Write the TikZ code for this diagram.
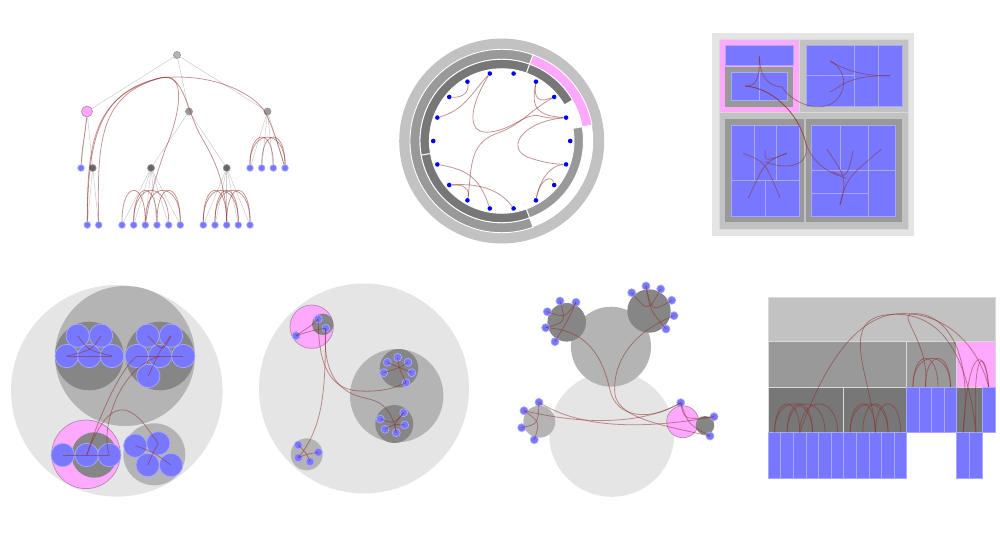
\documentclass[tikz,border=0pt]{standalone}
\usetikzlibrary{calc}
\definecolor{leafblue}{HTML}{7777FF}
\definecolor{leafedge}{HTML}{A8A8FF}
\definecolor{pinkfill}{HTML}{FFA8FF}
\definecolor{pinkedge}{HTML}{B58AB5}
\definecolor{bglight}{HTML}{E5E5E5}
\definecolor{gray1}{HTML}{C2C2C2}
\definecolor{gray2}{HTML}{999999}
\definecolor{gray3}{HTML}{777777}
\definecolor{gray4}{HTML}{666666}
\definecolor{disc1}{HTML}{B4B4B4}
\definecolor{disc2}{HTML}{868686}
\definecolor{bundlered}{HTML}{8E2B2B}

\begin{document}
\begin{tikzpicture}[x=0.02cm, y=-0.02cm,
    leaf/.style={circle, draw=leafedge, fill=leafblue, inner sep=0pt, minimum size=6.6*0.02cm},
    knot/.style={circle, draw=black!40, fill=#1, inner sep=0pt, minimum size=7*0.02cm},
    hl/.style={circle, draw=pinkedge, fill=pinkfill, inner sep=0pt, minimum size=11*0.02cm},
    rdot/.style={circle, fill=blue, inner sep=0pt, minimum size=4.6*0.02cm},
    ball/.style={circle, draw=leafedge, fill=leafblue, inner sep=0pt, minimum size=#1*0.04cm},
    tile/.style={draw=leafedge, fill=leafblue, line width=0.5pt},
    cell/.style={rectangle, draw=leafedge, fill=leafblue, line width=0.5pt, inner sep=0pt,
                 minimum width=12.6*0.02cm, minimum height=45.4*0.02cm},
    pane/.style={draw=white!85!black, line width=0.5pt},
    link/.style={draw=black!20, line width=0.3pt},
    bundle/.style={draw=bundlered, opacity=0.5, line width=0.45pt}
  ]
  \useasboundingbox (0,0) rectangle (1000,545);

  % Baum
  \node[knot=disc1] (t0) at (177,55) {};
  \node[hl] (ta) at (87,111.5) {};
  \node[knot=gray2] (tb) at (189,111.5) {};
  \node[knot=gray2] (tc) at (267.5,111.5) {};
  \node[leaf] (ta1) at (81,168) {};
  \node[knot=gray4] (ta2) at (92.7,168) {};
  \node[knot=gray4] (tb1) at (151,168) {};
  \node[knot=gray4] (tb2) at (226.7,168) {};
  \foreach \x [count=\i] in {250,261.7,273.3,285}
    \node[leaf] (tc\i) at (\x,168) {};
  \foreach \x [count=\i] in {87.3,98.7}
    \node[leaf] (ta2\i) at (\x,225) {};
  \foreach \x [count=\i] in {122,133.7,145.3,157,168.7,180.3}
    \node[leaf] (tb1\i) at (\x,225) {};
  \foreach \x [count=\i] in {203.3,215,226.7,238.3,250}
    \node[leaf] (tb2\i) at (\x,225) {};
  \foreach \a/\b in {t0/ta, t0/tb, t0/tc, ta/ta1, ta/ta2, tb/tb1, tb/tb2, ta2/ta21, ta2/ta22}
    \draw[link] (\a) -- (\b);
  \foreach \i in {1,...,4} \draw[link] (tc) -- (tc\i);
  \foreach \i in {1,...,6} \draw[link] (tb1) -- (tb1\i);
  \foreach \i in {1,...,5} \draw[link] (tb2) -- (tb2\i);
  \draw[bundle] (ta21) .. controls (87,140) and (95,95) .. (160,78) .. controls (185,72) and (185,110) .. (203,140) .. controls (215,160) and (226,185) .. (tb23);
  \draw[bundle] (ta22) .. controls (97,140) and (100,95) .. (160,78) .. controls (215,72) and (255,95) .. (265,112) .. controls (272,125) and (280,150) .. (tc4);
  \draw[bundle] (ta21) .. controls (88,140) and (98,92) .. (160,78) .. controls (188,70) and (180,115) .. (165,150) .. controls (158,170) and (150,195) .. (tb13);
  \draw[bundle] (ta1) .. controls (82,145) and (86,130) .. (ta);
  \foreach \a/\b in {tb12/tb14, tb12/tb15, tb13/tb16, tb11/tb13, tb14/tb16,
                     tb21/tb23, tb22/tb24, tb23/tb25, tb22/tb25, tb21/tb24}
    \draw[bundle] (\a) .. controls +(0,-45) and +(0,-45) .. (\b);
  \foreach \a/\b in {tc1/tc3, tc2/tc4, tc1/tc4}
    \draw[bundle] (\a) .. controls +(0,-40) and +(0,-40) .. (\b);

  % Ring
  \coordinate (rc) at (501.7,141);
  \fill[gray1] (rc) circle[radius=102.5];
  \fill[white] (rc) circle[radius=91.5];
  \foreach \a/\b/\ri/\ro/\f in {70/290/81.7/91.7/gray2, 10/70/81.7/91.7/pinkfill,
                                70/190/72.3/81.7/gray3, 190/290/72.3/81.7/gray3,
                                290/370/72.3/81.7/gray2, 30/70/72.3/81.7/gray3}
    \filldraw[fill=\f, draw=white, line width=0.5pt] ($(rc)+(-\a:\ro)$) arc[start angle=-\a, end angle=-\b, radius=\ro]
      -- ($(rc)+(-\b:\ri)$) arc[start angle=-\b, end angle=-\a, radius=\ri] -- cycle;
  \foreach \i in {0,...,17}
    \node[rdot] (r\i) at ($(rc)+(-20*\i:68.5)$) {};
  \draw[bundle] (r8) .. controls (465,110) and (472,92) .. (r5);
  \draw[bundle] (r6) .. controls (469,92) and (463,98) .. (r7);
  \draw[bundle] (r5) .. controls (470,105) and (465,135) .. (490,132) .. controls (515,129) and (525,112) .. (540,116) .. controls (550,119) and (558,118) .. (r1);
  \draw[bundle] (r3) .. controls (533,100) and (530,116) .. (r1);
  \draw[bundle] (r3) .. controls (533,105) and (545,100) .. (r2);
  \draw[bundle] (r1) .. controls (520,122) and (505,150) .. (530,158) .. controls (545,163) and (555,164) .. (r17);
  \draw[bundle] (r12) .. controls (472,170) and (468,145) .. (495,134) .. controls (520,126) and (528,112) .. (r2);
  \draw[bundle] (r10) .. controls (470,170) and (480,180) .. (r13);
  \draw[bundle] (r11) .. controls (480,183) and (500,190) .. (r14);
  \draw[bundle] (r11) .. controls (465,184) and (470,190) .. (r12);
  \draw[bundle] (r15) .. controls (540,180) and (550,165) .. (r17);
  \draw[bundle] (r15) .. controls (540,178) and (552,175) .. (r16);

  % Treemap
  \fill[bglight] (712.3,33.3) rectangle (914.3,235.7);
  \filldraw[pane, fill=pinkfill] (719,39) rectangle (799.3,112.3);
  \filldraw[pane, fill=gray1] (799.3,39) rectangle (908.3,112.3);
  \filldraw[pane, fill=gray1] (719,112.3) rectangle (908.3,229);
  \fill[gray2] (725,66.7) rectangle (793.3,106.7);
  \fill[gray2] (725,119) rectangle (804.3,222.3);
  \fill[gray2] (805.7,119) rectangle (902.3,222.3);
  \foreach \a/\b/\c/\d in {725/45.7/793.3/65, 731/72.3/759.3/100, 759.3/72.3/787.3/100,
      806/45.7/854/75.7, 806/75.7/854/106, 854/45.7/878.3/106, 878.3/45.7/902.3/106,
      731/125/754/180, 754/125/776.7/180, 776.7/125/799/180, 731/180/765/216.7, 765/180/799/216.7,
      811.7/125/840/170.7, 840/125/868.3/170.7, 868.3/125/895.7/170.7,
      811.7/170.7/868.3/193.3, 811.7/193.3/868.3/216.7, 868.3/170.7/895.7/216.7}
    \filldraw[tile] (\a,\b) rectangle (\c,\d);
  \coordinate (m1) at (759.3,56);
  \coordinate (m2) at (745,86);
  \coordinate (m3) at (782,87);
  \coordinate (m5) at (765,161.7);
  \coordinate (m6) at (830,61);
  \coordinate (m7) at (830,92);
  \coordinate (m8) at (890,75.7);
  \coordinate (m9) at (846.7,178.3);
  \coordinate (n1) at (743.3,153.3);
  \coordinate (n2) at (786.7,153.3);
  \coordinate (n3) at (748.3,198.3);
  \coordinate (n4) at (780,197.7);
  \coordinate (n5) at (765,150);
  \coordinate (o1) at (826.7,149);
  \coordinate (o2) at (881.7,149);
  \coordinate (o3) at (853.3,151);
  \coordinate (o4) at (840,205);
  \coordinate (o5) at (831.7,171.7);
  \draw[bundle] (m1) .. controls (760,80) and (756,86) .. (m2);
  \draw[bundle] (m1) .. controls (760,80) and (770,86) .. (m3);
  \draw[bundle] (m2) .. controls (772,88) and (797,112) .. (805,140) .. controls (813,168) and (785,170) .. (m5);
  \draw[bundle] (m2) .. controls (772,88) and (797,112) .. (805,140) .. controls (810,160) and (825,172) .. (m9);
  \draw[bundle] (m3) .. controls (795,108) and (835,118) .. (843,88) .. controls (846,75) and (838,64) .. (m6);
  \draw[bundle] (m6) .. controls (845,70) and (862,76) .. (m8);
  \draw[bundle] (m7) .. controls (840,88) and (846,75) .. (m8);
  \draw[bundle] (n1) .. controls (m5) .. (n4);
  \draw[bundle] (n2) .. controls (m5) .. (n3);
  \draw[bundle] (n5) .. controls (m5) .. (n2);
  \draw[bundle] (o1) .. controls (m9) .. (o4);
  \draw[bundle] (o2) .. controls (m9) .. (o4);
  \draw[bundle] (o3) .. controls (m9) .. (o5);

  % Kreise links
  \fill[bglight] (116.8,390.8) circle[radius=105.8];
  \fill[disc1] (125,356) circle[radius=70];
  \fill[disc2] (89.3,356) circle[radius=34.3];
  \fill[disc2] (160,356) circle[radius=34.3];
  \filldraw[fill=pinkfill, draw=pinkedge, line width=0.4pt] (86,454.3) circle[radius=34.3];
  \fill[disc2] (94.3,455) circle[radius=22.7];
  \fill[disc1] (154.3,454.3) circle[radius=31];
  \foreach \x/\y [count=\i] in {77.7/335.7, 101/335.7, 66.7/356, 89.3/356, 112/356}
    \node[ball=11.7] (u\i) at (\x,\y) {};
  \foreach \x/\y [count=\i] in {147.7/335.7, 171/335.7, 136.7/356, 160/356, 183.3/356, 148.3/376}
    \node[ball=11.7] (v\i) at (\x,\y) {};
  \foreach \x/\y [count=\i from 0] in {62.7/455, 86.7/455, 109.3/455}
    \node[ball=11.7] (w\i) at (\x,\y) {};
  \foreach \x/\y [count=\i] in {135.3/445.7, 158.3/443.3, 147.7/465, 171/465}
    \node[ball=11.7] (s\i) at (\x,\y) {};
  \draw[bundle] (u3.center) .. controls (u4) .. (u5.center);
  \draw[bundle] (u1.center) .. controls (88,350) .. (u5.center);
  \draw[bundle] (u2.center) .. controls (92,350) .. (u3.center);
  \draw[bundle] (v1.center) .. controls (163,352) .. (v2.center);
  \draw[bundle] (v3.center) .. controls (v4) .. (v5.center);
  \draw[bundle] (v6.center) .. controls (160,350) .. (v2.center);
  \draw[bundle] (w0.center) .. controls (w1) .. (w2.center);
  \draw[bundle] (s1.center) .. controls (153,452) .. (s4.center);
  \draw[bundle] (s2.center) .. controls (152,455) .. (s3.center);
  \draw[bundle] (w1.center) .. controls (95,430) and (115,375) .. (v3.center);
  \draw[bundle] (w2.center) .. controls (100,430) and (118,368) .. (v4.center);
  \draw[bundle] (w1.center) .. controls (100,420) and (112,408) .. (125,410) .. controls (140,414) and (148,430) .. (s2.center);

  % Kreise Mitte
  \fill[bglight] (364,388.5) circle[radius=105];
  \filldraw[fill=pinkfill, draw=pinkedge, line width=0.4pt] (311.7,326.7) circle[radius=21.7];
  \fill[disc2] (322.7,324.3) circle[radius=10.7];
  \fill[disc1] (396.7,395.7) circle[radius=46.7];
  \fill[disc2] (399,368.3) circle[radius=19.3];
  \fill[disc2] (394.3,424) circle[radius=19];
  \fill[disc1] (306.7,454.3) circle[radius=16];
  \node[ball=4] (pl) at (296,335.7) {};
  \node[ball=4] (pa) at (318.3,319) {};
  \node[ball=4] (pb) at (325.7,328.3) {};
  \foreach \x/\y [count=\i] in {387.3/362.3, 397.7/357.3, 408/362.3, 411.7/372.7, 406/382.7, 383.7/372.7}
    \node[ball=4] (c\i) at (\x,\y) {};
  \foreach \x/\y [count=\i] in {380.3/419, 403.7/412.7, 404.7/425, 396.3/432.7, 385/429.3}
    \node[ball=4] (d\i) at (\x,\y) {};
  \foreach \x/\y [count=\i] in {298.3/445, 318.3/452.3, 298.3/457.7, 310/461.7}
    \node[ball=4] (g\i) at (\x,\y) {};
  \draw[bundle] (c1.center) .. controls (399,368) .. (c4.center);
  \draw[bundle] (c2.center) .. controls (399,368) .. (c5.center);
  \draw[bundle] (c3.center) .. controls (399,368) .. (c6.center);
  \draw[bundle] (d1.center) .. controls (394,424) .. (d2.center);
  \draw[bundle] (d3.center) .. controls (394,424) .. (d5.center);
  \draw[bundle] (d4.center) .. controls (394,424) .. (d2.center);
  \draw[bundle] (g1.center) .. controls (307,454) .. (g4.center);
  \draw[bundle] (g2.center) .. controls (307,454) .. (g3.center);
  \draw[bundle] (pl.center) .. controls (312,325) .. (pa.center);
  \draw[bundle] (pl.center) .. controls (314,330) .. (pb.center);
  \draw[bundle] (pa.center) .. controls (318,365) and (330,390) .. (360,391) .. controls (382,392) and (395,388) .. (c5.center);
  \draw[bundle] (pb.center) .. controls (322,375) and (340,393) .. (365,398) .. controls (385,402) and (392,412) .. (d4.center);
  \draw[bundle] (pb.center) .. controls (325,385) and (325,425) .. (g3.center);

  % Kreise rechts
  \fill[bglight] (611.7,434.3) circle[radius=62.5];
  \fill[disc1] (611,346.7) circle[radius=40];
  \fill[disc2] (566.7,322.3) circle[radius=19.3];
  \fill[disc2] (649,311) circle[radius=21.7];
  \fill[disc1] (539.3,421.7) circle[radius=16];
  \filldraw[fill=pinkfill, draw=pinkedge, line width=0.4pt] (682.7,421.7) circle[radius=16];
  \fill[disc2] (705,425.3) circle[radius=9.3];
  \foreach \x/\y [count=\i] in {560/301, 576/302.3, 547.3/311.7, 545.7/327.7, 555/341.7}
    \node[ball=4] (a\i) at (\x,\y) {};
  \foreach \x/\y [count=\i] in {631.7/292.7, 646/286, 660.7/289, 671.7/300.3, 674/315.7, 666/329}
    \node[ball=4] (b\i) at (\x,\y) {};
  \foreach \x/\y [count=\i] in {524/410.7, 539/402.3, 521.7/427.7, 534.3/439.7}
    \node[ball=4] (h\i) at (\x,\y) {};
  \foreach \x/\y [count=\i from 0] in {680.7/402.7, 714/416.7, 710/436}
    \node[ball=4] (k\i) at (\x,\y) {};
  \draw[bundle] (a1.center) .. controls (566,322) .. (a4.center);
  \draw[bundle] (a2.center) .. controls (565,318) .. (a3.center);
  \draw[bundle] (a5.center) .. controls (568,320) .. (a2.center);
  \draw[bundle] (b2.center) .. controls (650,310) .. (b6.center);
  \draw[bundle] (b3.center) .. controls (648,312) .. (b1.center);
  \draw[bundle] (b4.center) .. controls (652,312) .. (b2.center);
  \draw[bundle] (h1.center) .. controls (540,422) .. (h4.center);
  \draw[bundle] (h2.center) .. controls (538,424) .. (h3.center);
  \draw[bundle] (k0.center) .. controls (684,420) .. (k1.center);
  \draw[bundle] (k0.center) .. controls (688,424) .. (k2.center);
  \draw[bundle] (a4.center) .. controls (590,330) and (603,360) .. (610,390) .. controls (616,418) and (650,422) .. (k0.center);
  \draw[bundle] (b5.center) .. controls (625,335) and (612,370) .. (615,395) .. controls (620,418) and (660,425) .. (k2.center);
  \draw[bundle] (h2.center) .. controls (580,428) and (640,430) .. (k1.center);
  \draw[bundle] (h1.center) .. controls (580,424) and (640,426) .. (k0.center);

  % Eiszapfen
  \filldraw[pane, fill=gray1] (768.3,297.3) rectangle (995,341.7);
  \filldraw[pane, fill=gray2] (768.3,341.7) rectangle (906.7,387.3);
  \filldraw[pane, fill=gray2] (906.7,341.7) rectangle (956.7,387.3);
  \filldraw[pane, fill=pinkfill] (956.7,341.7) rectangle (995,387.3);
  \filldraw[pane, fill=gray3] (768.3,387.3) rectangle (843.3,432.7);
  \filldraw[pane, fill=gray3] (843.3,387.3) rectangle (906.7,432.7);
  \filldraw[pane, fill=gray3] (956.7,387.3) rectangle (982.3,432.7);
  \foreach \i in {0,...,10}
    \node[cell] (e\i) at ({774.6+12.6*\i},455.5) {};
  \foreach \x [count=\i from 11] in {912.95,925.45,937.95,950.45}
    \node[cell] (e\i) at (\x,410) {};
  \node[cell] (e15) at (963.1,455.5) {};
  \node[cell] (e16) at (975.9,455.5) {};
  \node[cell] (e17) at (988.65,410) {};
  \foreach \a/\b in {e0/e3, e1/e4, e2/e5, e1/e3, e0/e2, e6/e8, e7/e9, e8/e10, e6/e9,
                     e11/e13, e12/e14, e11/e14}
    \draw[bundle] (\a.north) .. controls +(0,-38) and +(0,-38) .. (\b.north);
  \draw[bundle] (e15.north) .. controls (968,345) and (985,345) .. (e17.north);
  \draw[bundle] (e16.north) .. controls (972,345) and (986,348) .. (e17.north);
  \draw[bundle] (e2.north) .. controls (815,390) and (845,320) .. (895,314) .. controls (935,310) and (975,335) .. (e17.north);
  \draw[bundle] (e8.north) .. controls (872,380) and (838,322) .. (885,315) .. controls (925,310) and (965,330) .. (e16.north);
  \draw[bundle] (e12.north) .. controls (930,345) and (900,318) .. (910,314) .. controls (935,310) and (975,335) .. (e15.north);
\end{tikzpicture}
\end{document}
